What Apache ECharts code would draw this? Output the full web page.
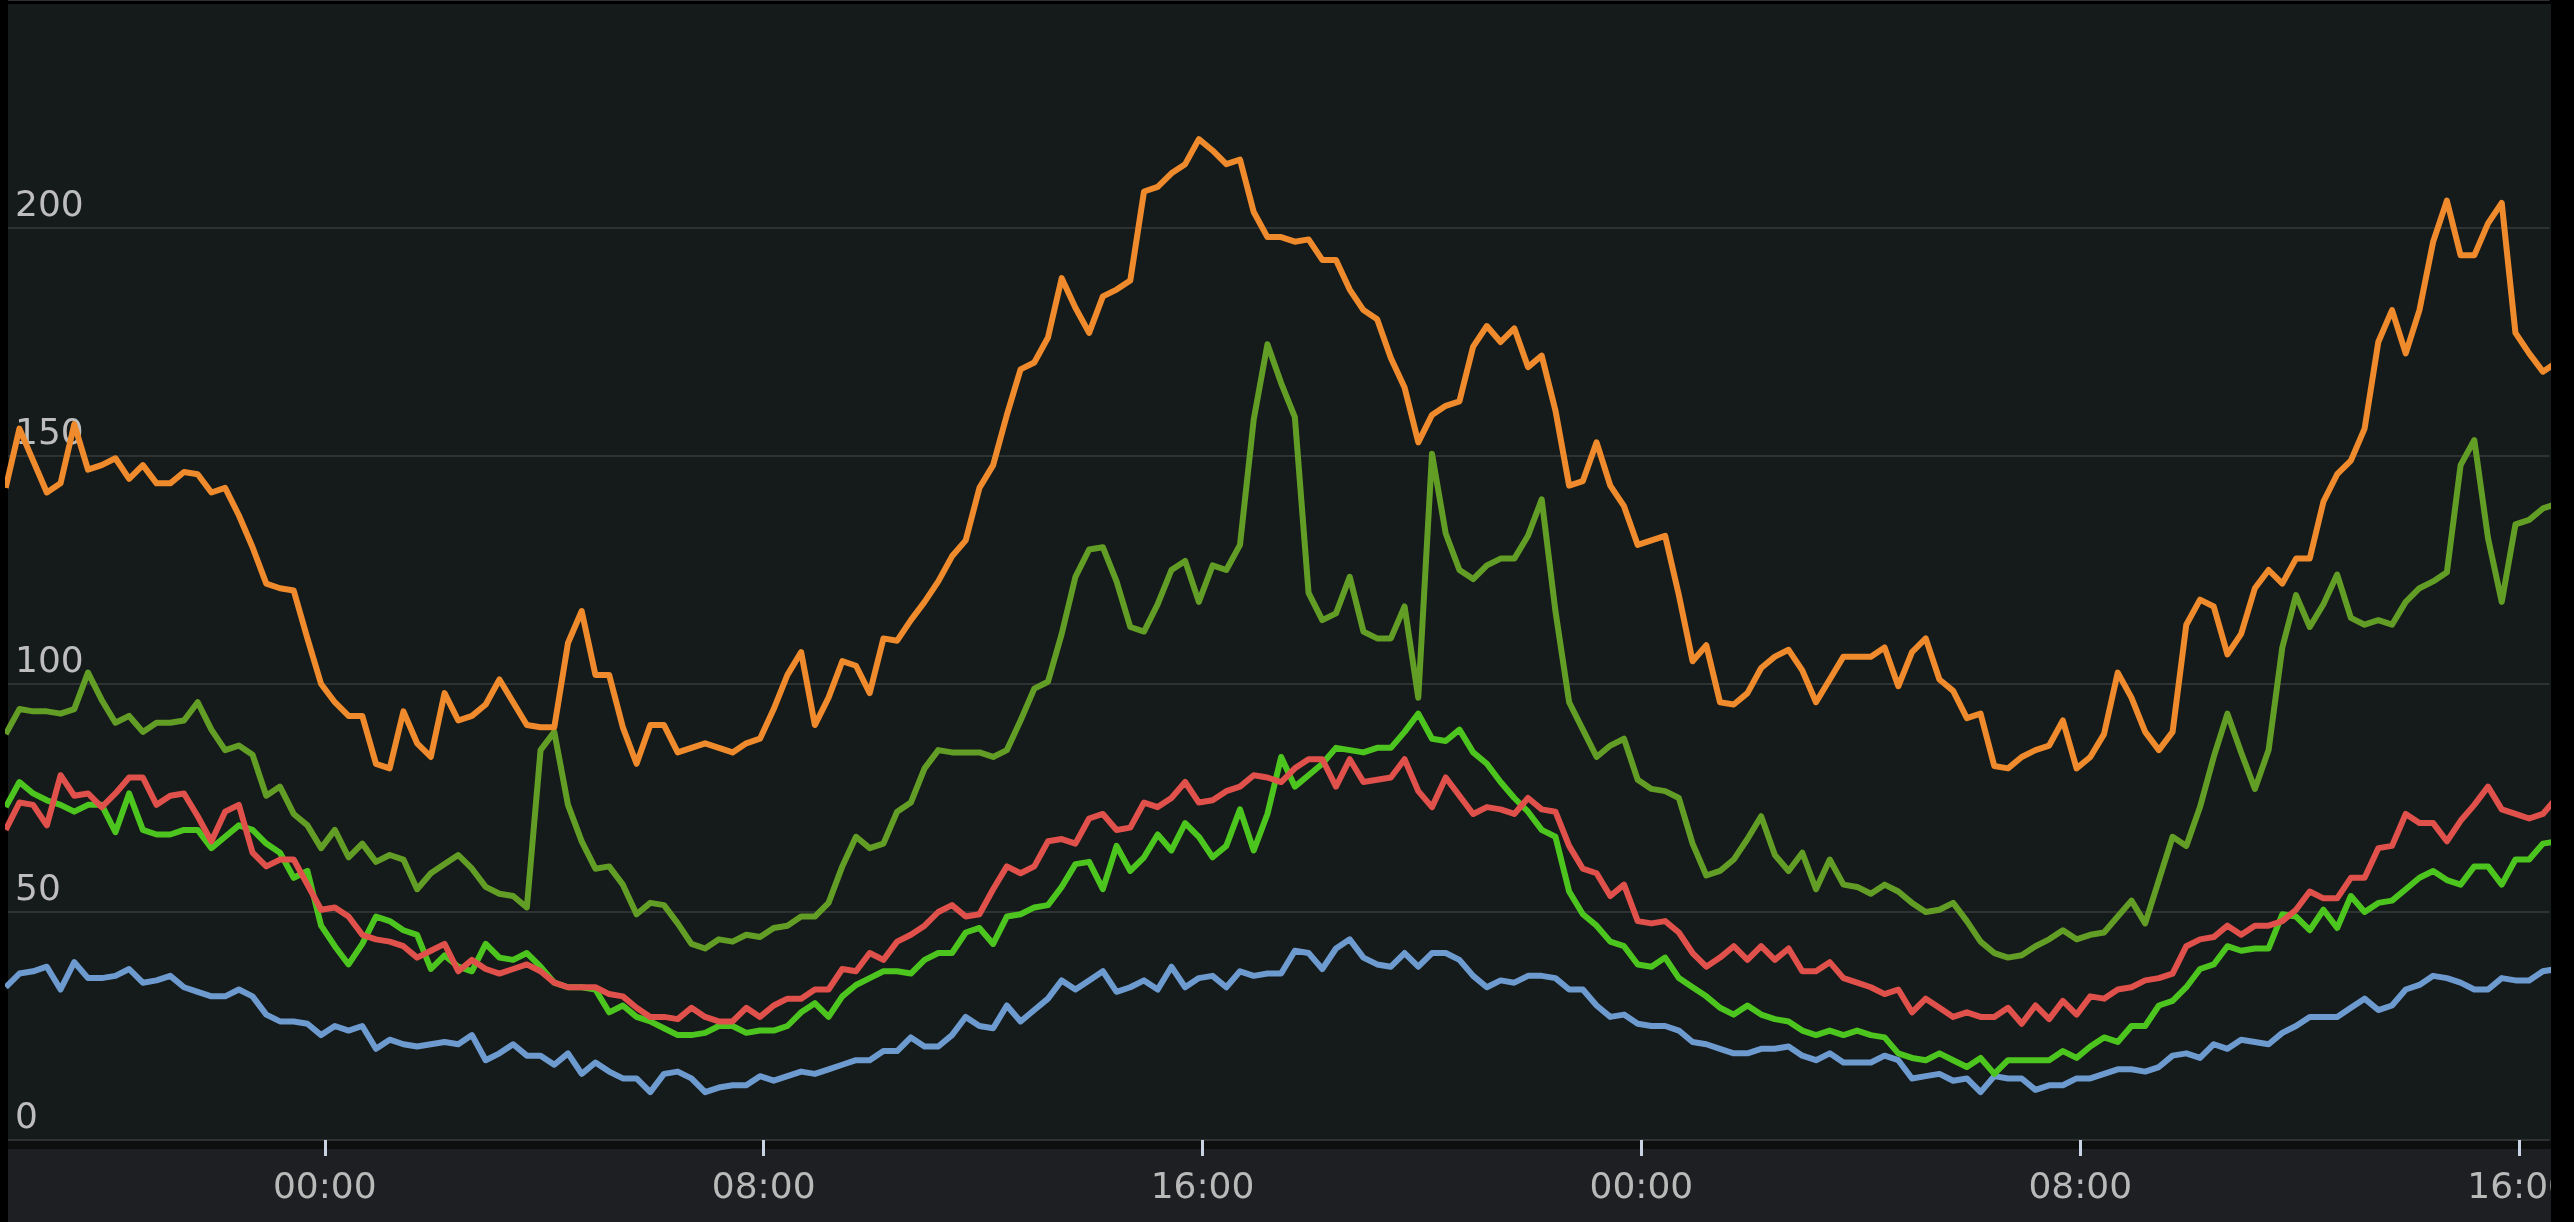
<!DOCTYPE html>
<html>
<head>
<meta charset="utf-8">
<script src="https://cdn.jsdelivr.net/npm/echarts@6/dist/echarts.min.js"></script>
<style>
html,body{margin:0;padding:0;background:#000;}
#chart{width:2574px;height:1222px;}
</style>
</head>
<body>
<div id="chart"></div>
<script>
// Time of first sample: hours relative to midnight of the middle day (18:11 the day before), 15-minute samples
const startHour = -5.817;
const stepHours = 0.25;
const xTickHours = [0, 8, 16, 24, 32, 40];
const yTickValues = [0, 50, 100, 150, 200];

const orangeSeries = [
  143, 156, 149, 142, 144, 157, 147, 148, 149.5, 145,
  148, 144, 144, 146.5, 146, 142, 143, 137, 130, 122,
  121, 120.5, 110, 100, 96, 93, 93, 82.5, 81.5, 94,
  87, 84, 98, 92, 93, 95.5, 101, 96, 91, 90.5,
  90.5, 109, 116, 102, 102, 90.5, 82.5, 91, 91, 85,
  86, 87, 86, 85, 87, 88, 94.5, 102, 107, 91,
  97, 105, 104, 98, 110, 109.5, 114, 118, 122.5, 128,
  131.5, 143, 148, 159, 169, 170.5, 176, 189, 182.5, 177,
  185, 186.5, 188.5, 208, 209, 212, 214, 219.5, 217, 214,
  215, 203.5, 198, 198, 197, 197.5, 193, 193, 186.5, 182,
  180, 171.5, 165, 153, 159, 161, 162, 174, 178.5, 175,
  178, 169.5, 172, 160, 143.5, 144.5, 153, 143.5, 139, 130.5,
  131.5, 132.5, 119.5, 105, 108.5, 96, 95.5, 98, 103.5, 106,
  107.5, 103, 96, 101, 106, 106, 106, 108, 99.5, 107,
  110, 101, 98.5, 92.5, 93.5, 82, 81.5, 84, 85.5, 86.5,
  92, 81.5, 84, 89, 102.5, 97, 89.5, 85.5, 89.5, 113,
  118.5, 117, 106.5, 111, 121, 125, 122, 127.5, 127.5, 140,
  146, 149, 156, 175, 182, 172.5, 182, 197, 206, 194,
  194, 201, 205.5, 177, 172.5, 168.5, 170.5
];

const darkGreenSeries = [
  89, 94.5, 94, 94, 93.5, 94.5, 102.5, 96.5, 91.5, 93,
  89.5, 91.5, 91.5, 92, 96, 90, 85.5, 86.5, 84.5, 75.5,
  77.5, 71.5, 69, 64, 68, 62, 65, 61, 62.5, 61.5,
  55, 58.5, 60.5, 62.5, 59.5, 55.5, 54, 53.5, 51, 85.5,
  89.5, 73.5, 65.5, 59.5, 60, 56, 49.5, 52, 51.5, 47.5,
  43, 42, 44, 43.5, 45, 44.5, 46.5, 47, 49, 49,
  52, 60, 66.5, 64, 65, 72, 74, 81.5, 85.5, 85,
  85, 85, 84, 85.5, 92, 99, 100.5, 111, 123.5, 129.5,
  130, 122.5, 112.5, 111.5, 117.5, 125, 127, 118, 126, 125,
  130.5, 158, 174.5, 166, 158.5, 120, 114, 115.5, 123.5, 111.5,
  110, 110, 117, 97, 150.5, 133, 125, 123, 126, 127.5,
  127.5, 132.5, 140.5, 116, 96, 90, 84, 86.5, 88, 79,
  77, 76.5, 75, 65, 58, 59, 61.5, 66, 71, 62.5,
  59, 63, 55, 61.5, 56, 55.5, 54, 56, 54.5, 52,
  50, 50.5, 52, 48, 43.5, 41, 40, 40.5, 42.5, 44,
  46, 44, 45, 45.5, 49, 52.5, 47.5, 57, 66.5, 64.5,
  73, 84, 93.5, 85, 77, 85.5, 108, 119.5, 112.5, 117.5,
  124, 114.5, 113, 114, 113, 118, 121, 122.5, 124.5, 148,
  153.5, 132, 118, 135, 136, 138.5, 139.5
];

const greenSeries = [
  73, 78.5, 76, 74.5, 73.5, 72, 73.5, 73.5, 67.5, 76,
  68, 67, 67, 68, 68, 64, 66.5, 69, 68, 65,
  63, 57.5, 59, 47, 42.5, 38.5, 43, 49, 48, 46,
  45, 37.5, 40.5, 38, 37, 43, 40, 39.5, 41, 38,
  34.5, 33.5, 33.5, 33, 28, 29.5, 27, 26, 24.5, 23,
  23, 23.5, 25, 25, 23.5, 24, 24, 25, 28, 30,
  27, 31.5, 34, 35.5, 37, 37, 36.5, 39.5, 41, 41,
  45.5, 46.5, 43, 49, 49.5, 51, 51.5, 55.5, 60.5, 61,
  55, 64.5, 59, 62, 67, 63.5, 69.5, 66.5, 62, 64.5,
  72.5, 63.5, 71.5, 84, 77.5, 80, 82.5, 86, 85.5, 85,
  86, 86, 89.5, 93.5, 88, 87.5, 90, 85, 82.5, 78.5,
  75, 72, 68, 66.5, 54.5, 49.5, 47, 43.5, 42.5, 38.5,
  38, 40, 35.5, 33.5, 31.5, 29, 27.5, 29.5, 27.5, 26.5,
  26, 24, 23, 24, 23, 24, 23, 22.5, 19, 18,
  17.5, 19, 17.5, 16, 18, 14.5, 17.5, 17.5, 17.5, 17.5,
  19.5, 18, 20.5, 22.5, 21.5, 25, 25, 29.5, 30.5, 33.5,
  37.5, 38.5, 42.5, 41.5, 42, 42, 49.5, 49, 46, 50.5,
  46.5, 53.5, 50, 52, 52.5, 55, 57.5, 59, 57, 56,
  60, 60, 56, 61.5, 61.5, 65, 65.5
];

const redSeries = [
  68, 74, 73.5, 69, 80, 75.5, 76, 73, 76, 79.5,
  79.5, 73.5, 75.5, 76, 71, 65.5, 72, 73.5, 63, 60,
  61.5, 61.5, 56, 50.5, 51, 49, 45, 44, 43.5, 42.5,
  40, 41.5, 43, 37, 39.5, 37.5, 36.5, 37.5, 38.5, 37,
  34.5, 33.5, 33.5, 33.5, 32, 31.5, 29, 27, 27, 26.5,
  29, 27, 26, 26, 29, 27, 29.5, 31, 31, 33,
  33, 37.5, 37, 41, 39.5, 43.5, 45, 47, 50, 51.5,
  49, 49.5, 55, 60, 58.5, 60, 65.5, 66, 65, 70.5,
  71.5, 68, 68.5, 74, 73, 75, 78.5, 74, 74.5, 76.5,
  77.5, 80, 79.5, 78.5, 81.5, 83.5, 83.5, 77.5, 83.5, 78.5,
  79, 79.5, 83.5, 76.5, 73, 79.5, 75.5, 71.5, 73, 72.5,
  71.5, 75, 72.5, 72, 64.5, 59.5, 58.5, 53.5, 56, 48,
  47.5, 48, 45.5, 41, 38, 40, 42.5, 39.5, 42.5, 39.5,
  42, 37, 37, 39, 35.5, 34.5, 33.5, 32, 33, 28,
  31, 29, 27, 28, 27, 27, 29, 25.5, 29.5, 26.5,
  30.5, 27.5, 31.5, 31, 33, 33.5, 35, 35.5, 36.5, 42.5,
  44, 44.5, 47, 45, 47, 47, 48, 50.5, 54.5, 53,
  53, 57.5, 57.5, 64, 64.5, 71.5, 69.5, 69.5, 65.5, 70,
  73.5, 77.5, 72.5, 71.5, 70.5, 71.5, 75
];

const blueSeries = [
  33.5, 36.5, 37, 38, 33, 39, 35.5, 35.5, 36, 37.5,
  34.5, 35, 36, 33.5, 32.5, 31.5, 31.5, 33, 31.5, 27.5,
  26, 26, 25.5, 23, 25, 24, 25, 20, 22, 21,
  20.5, 21, 21.5, 21, 23, 17.5, 19, 21, 18.5, 18.5,
  16.5, 19, 14.5, 17, 15, 13.5, 13.5, 10.5, 14.5, 15,
  13.5, 10.5, 11.5, 12, 12, 14, 13, 14, 15, 14.5,
  15.5, 16.5, 17.5, 17.5, 19.5, 19.5, 22.5, 20.5, 20.5, 23,
  27, 25, 24.5, 29.5, 26, 28.5, 31, 35, 33, 35,
  37, 32.5, 33.5, 35, 33, 38, 33.5, 35.5, 36, 33.5,
  37, 36, 36.5, 36.5, 41.5, 41, 37.5, 42, 44, 40,
  38.5, 38, 41, 38, 41, 41, 39.5, 36, 33.5, 35,
  34.5, 36, 36, 35.5, 33, 33, 29.5, 27, 27.5, 25.5,
  25, 25, 24, 21.5, 21, 20, 19, 19, 20, 20,
  20.5, 18.5, 17.5, 19, 17, 17, 17, 18.5, 17.5, 13.5,
  14, 14.5, 13, 13.5, 10.5, 14, 13.5, 13.5, 11, 12,
  12, 13.5, 13.5, 14.5, 15.5, 15.5, 15, 16, 18.5, 19,
  18, 21, 20, 22, 21.5, 21, 23.5, 25, 27, 27,
  27, 29, 31, 28.5, 29.5, 33, 34, 36, 35.5, 34.5,
  33, 33, 35.5, 35, 35, 37, 37.5
];

function withTimes(values) {
  return values.map((v, i) => [startHour + i * stepHours, v]);
}

const seriesDefs = [
  { name: 'blue', values: blueSeries, color: '#6d9bd0' },
  { name: 'green', values: greenSeries, color: '#4dc51f' },
  { name: 'red', values: redSeries, color: '#e0514b' },
  { name: 'darkgreen', values: darkGreenSeries, color: '#629e25' },
  { name: 'orange', values: orangeSeries, color: '#ef8b2c' }
];

const labelFont = 'DejaVu Sans';

const chart = echarts.init(document.getElementById('chart'), null, { renderer: 'canvas' });
chart.setOption({
  animation: false,
  backgroundColor: '#000000',
  graphic: [
    { type: 'rect', z: -10, silent: true, shape: { x: 8, y: 4, width: 2543, height: 1137 }, style: { fill: '#151a1a' } },
    { type: 'rect', z: -10, silent: true, shape: { x: 8, y: 1141, width: 2543, height: 8 }, style: { fill: '#0d0f0f' } },
    { type: 'rect', z: -10, silent: true, shape: { x: 8, y: 1149, width: 2543, height: 73 }, style: { fill: '#1e1f23' } },
    { type: 'rect', z: 100, silent: true, shape: { x: 2551, y: 0, width: 23, height: 1222 }, style: { fill: '#000000' } }
  ],
  grid: { left: 8, right: 23, top: -4, bottom: 82, containLabel: false },
  xAxis: {
    type: 'value',
    min: -5.775,
    max: 40.554,
    offset: 5,
    axisLine: { show: false },
    splitLine: { show: false },
    axisTick: {
      show: true,
      customValues: xTickHours,
      length: 16,
      lineStyle: { color: '#c9d3e3', width: 3 }
    },
    axisLabel: {
      customValues: xTickHours,
      margin: 26,
      fontSize: 36,
      fontFamily: labelFont,
      color: '#b9b9b9',
      formatter: function (v) {
        const h = ((Math.round(v) % 24) + 24) % 24;
        return String(h).padStart(2, '0') + ':00';
      }
    }
  },
  yAxis: {
    type: 'value',
    min: 0,
    max: 250,
    interval: 50,
    axisLine: { show: false },
    axisTick: { show: false },
    splitLine: { lineStyle: { color: '#2f3233', width: 2 } },
    axisLabel: {
      inside: true,
      showMaxLabel: false,
      margin: 7,
      align: 'left',
      verticalAlign: 'bottom',
      lineHeight: 36,
      padding: [0, 0, 3, 0],
      fontSize: 36,
      fontFamily: labelFont,
      color: '#bdbdbd',
      formatter: function (v) { return yTickValues.indexOf(v) >= 0 ? String(v) : ''; }
    }
  },
  series: seriesDefs.map(s => ({
    name: s.name,
    type: 'line',
    data: withTimes(s.values),
    showSymbol: false,
    symbol: 'none',
    smooth: false,
    clip: true,
    lineStyle: { color: s.color, width: 6, join: 'round' },
    itemStyle: { color: s.color },
    emphasis: { disabled: true }
  }))
});
</script>
</body>
</html>
